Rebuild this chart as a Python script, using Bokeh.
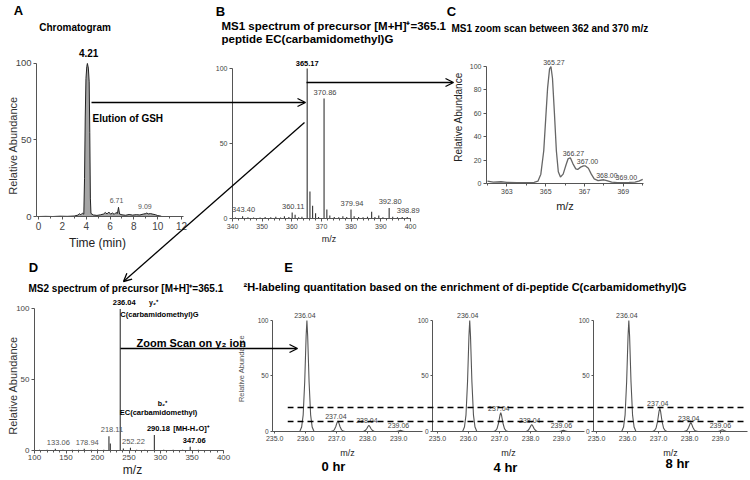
import math
from bokeh.plotting import figure
from bokeh.models import Range1d, FixedTicker, Label, Arrow, OpenHead, NumeralTickFormatter
from bokeh.embed import file_html
from bokeh.resources import INLINE
from bokeh.core.properties import value

W, H = 750, 480
FONT = "Liberation Sans"

# ---------------- data ----------------
# A: chromatogram
chrom_time = [0.0, 0.6, 1.2, 1.8, 2.4, 3.0, 3.3, 3.45, 3.55, 3.68, 3.8, 3.86, 3.92, 3.98, 4.05, 4.1,
              4.18, 4.25, 4.3, 4.35, 4.4, 4.6, 4.9, 5.2, 5.45, 5.6, 5.75, 5.9, 6.05, 6.2, 6.35, 6.5,
              6.62, 6.71, 6.8, 7.0, 7.3, 7.6, 7.9, 8.2, 8.5, 8.8, 9.0, 9.09, 9.2, 9.4, 9.6, 9.8, 10.0, 10.3]
chrom_abund = [0.0, 0.1, 0.0, 0.2, 0.1, 0.3, 0.9, 1.8, 1.1, 2.2, 1.5, 25, 65, 90, 98, 100,
               97, 88, 55, 12, 2.0, 1.0, 0.7, 1.1, 1.6, 2.6, 1.7, 2.9, 1.5, 2.3, 1.4, 2.6,
               2.0, 6.0, 1.6, 1.1, 0.8, 1.3, 0.9, 1.2, 1.0, 1.6, 1.9, 2.3, 1.7, 1.9, 1.5, 1.2, 0.6, 0.2]
chrom_apex_time = [4.21]
chrom_apex_abund = [100]
chrom_apex_text = ["4.21"]
chrom_minor_time = [6.71, 9.09]
chrom_minor_abund = [6.0, 2.3]
chrom_minor_text = ["6.71", "9.09"]

# B: MS1 spectrum
ms1_mz = [341.0, 343.4, 345.2, 347.1, 349.3, 351.0, 352.9, 354.6, 356.2, 357.5, 359.0, 360.11, 361.1,
          362.3, 363.4, 365.17, 366.1, 367.0, 368.0, 369.0, 370.86, 371.8, 372.8, 374.3, 375.8, 377.2,
          378.5, 379.94, 381.0, 382.5, 384.0, 385.5, 386.9, 388.0, 389.3, 390.7, 392.8, 394.0, 395.6,
          397.2, 398.89]
ms1_int = [0.6, 1.5, 0.8, 0.6, 0.7, 1.0, 0.8, 1.2, 0.6, 1.5, 1.0, 4.0, 2.5,
           0.8, 1.2, 100, 18, 8.5, 3.5, 1.0, 80, 6.0, 2.0, 1.0, 0.8, 1.5,
           1.0, 6.0, 1.5, 1.0, 0.8, 1.2, 4.5, 1.0, 2.0, 0.8, 7.0, 1.2, 0.8,
           1.0, 1.0]
ms1_label_mz = [343.40, 360.11, 370.86, 379.94, 392.80, 398.89]
ms1_label_int = [1.5, 4.0, 80, 6.0, 7.0, 1.0]
ms1_label_text = ["343.40", "360.11", "370.86", "379.94", "392.80", "398.89"]
ms1_base_mz = [365.17]
ms1_base_int = [100]
ms1_base_text = ["365.17"]

# C: MS1 zoom scan (profile)
zoom_mz = [362.0, 362.3, 362.7, 363.0, 363.5, 364.0, 364.4, 364.6, 364.75, 364.9, 365.0, 365.1, 365.2,
           365.27, 365.35, 365.45, 365.55, 365.65, 365.76, 365.9, 366.05, 366.15, 366.27, 366.4, 366.55,
           366.65, 366.8, 366.95, 367.05, 367.2, 367.35, 367.5, 367.7, 367.9, 368.0, 368.15, 368.4,
           368.7, 369.0, 369.3, 369.6, 369.8, 370.0]
zoom_abund = [2.0, 1.2, 1.5, 1.0, 0.8, 0.8, 1.0, 2.0, 8, 28, 55, 82, 98,
              100, 90, 60, 28, 10, 5.5, 8, 16, 21, 22, 17, 12.5,
              12.0, 14, 15, 15, 13, 8, 4, 2.5, 3, 3.2, 2.5, 1.2,
              0.8, 0.8, 0.9, 1.2, 2.0, 3.5]
zoom_label_mz = [365.27, 366.27, 367.00, 368.00, 369.00]
zoom_label_abund = [100, 22, 15, 3.2, 0.9]
zoom_label_text = ["365.27", "366.27", "367.00", "368.00", "369.00"]

# D: MS2 spectrum
ms2_mz = [108, 120, 133.06, 145, 160, 170, 178.94, 190, 200, 210, 218.11, 220.3, 236.04, 241,
          252.22, 262, 275, 290.18, 305, 320, 335, 347.06, 360, 380]
ms2_int = [0.5, 0.5, 1.2, 0.5, 0.6, 0.5, 1.2, 0.5, 0.7, 0.6, 10.0, 5.0, 100, 1.5,
           2.0, 0.5, 0.6, 11.0, 0.5, 0.5, 0.6, 2.7, 0.5, 0.4]
ms2_ion_mz = [236.04, 290.18, 347.06]
ms2_ion_int = [100, 11.0, 2.7]
ms2_ion_text = ["236.04", "290.18", "347.06"]
ms2_other_mz = [133.06, 178.94, 218.11, 252.22]
ms2_other_int = [1.2, 1.2, 10.0, 2.0]
ms2_other_text = ["133.06", "178.94", "218.11", "252.22"]

# E: isotope distribution of y2 ion over time
iso_mz = [236.04, 237.04, 238.04, 239.06]
iso_text = ["236.04", "237.04", "238.04", "239.06"]
iso_0hr = [100, 9.5, 5.5, 1.0]
iso_4hr = [100, 17.0, 6.3, 1.0]
iso_8hr = [100, 21.0, 8.0, 1.5]
time_points = ["0 hr", "4 hr", "8 hr"]
enrich_levels = [21.8, 9.3]

# peak drawing shape (style only)
PEAK_DX = [-0.23, -0.17, -0.12, -0.07, -0.025, 0.0, 0.025, 0.07, 0.12, 0.17, 0.23]
PEAK_REL = [0.0, 0.04, 0.15, 0.45, 0.86, 1.0, 0.86, 0.45, 0.15, 0.04, 0.0]

AX = "#555555"
TK = "#444444"
STACK = {"position": "absolute", "left": "0px", "top": "0px"}


def blank(p):
    p.background_fill_color = None
    p.border_fill_color = None
    p.outline_line_color = None
    p.xgrid.visible = False
    p.ygrid.visible = False
    p.styles = dict(STACK)


def panel(left, top, fw, fh, xr, yr):
    p = figure(width=W, height=H, x_range=xr, y_range=yr, output_backend="svg",
               toolbar_location=None, min_border_left=left, min_border_top=top,
               min_border_right=W - left - fw, min_border_bottom=H - top - fh)
    blank(p)
    for ax in (p.xaxis[0], p.yaxis[0]):
        ax.axis_line_color = AX
        ax.major_tick_line_color = AX
        ax.minor_tick_line_color = AX
        ax.major_tick_in = 0
        ax.major_tick_out = 3
        ax.minor_tick_in = 0
        ax.minor_tick_out = 2
        ax.major_label_standoff = 2
        ax.major_label_text_font = FONT
        ax.major_label_text_color = TK
        ax.axis_label_text_font = FONT
        ax.axis_label_text_font_style = "normal"
        ax.axis_label_text_color = "#222222"
    return p


def txt(p, x, y, t, size, bold=False, color="#333333", xo=0, yo=-3):
    p.text(x=x, y=y, text=t, text_font=value(FONT), text_font_size=size,
           text_font_style="bold" if bold else "normal", text_color=color,
           text_align="center", text_baseline="bottom", x_offset=xo, y_offset=yo)


figs = []

# ---- A ----
pa = panel(36, 40, 164, 176, Range1d(-0.17, 13.59), Range1d(0, 115))
pa.varea(x=chrom_time, y1=0, y2=chrom_abund, fill_color="#a5a5a5")
pa.line(chrom_time, chrom_abund, line_color="#222222", line_width=1)
txt(pa, chrom_apex_time, chrom_apex_abund, chrom_apex_text, "10px", bold=True, color="black", yo=-6)
txt(pa, chrom_minor_time, chrom_minor_abund, chrom_minor_text, "7px", color="#555555", xo=-2, yo=-4)
pa.xaxis.ticker = FixedTicker(ticks=[0, 2, 4, 6, 8, 10, 12], minor_ticks=[1, 3, 5, 7, 9, 11])
pa.yaxis.ticker = FixedTicker(ticks=[0, 50, 100])
pa.xaxis.bounds = (-0.17, 12.2)
pa.yaxis.bounds = (0, 100)
pa.xaxis.major_label_text_font_size = "10px"
pa.yaxis.major_label_text_font_size = "9.5px"
figs.append(pa)

# ---- B ----
pb = panel(232, 50, 193, 168, Range1d(340, 405.05), Range1d(0, 112))
pb.segment(x0=ms1_mz, y0=0, x1=ms1_mz, y1=ms1_int, line_color="#333333", line_width=1.1)
txt(pb, ms1_base_mz, ms1_base_int, ms1_base_text, "7.5px", bold=True, color="black", yo=-3)
txt(pb, ms1_label_mz, ms1_label_int, ms1_label_text, "7.5px", color="#444444", xo=1, yo=-4)
pb.xaxis.ticker = FixedTicker(ticks=list(range(340, 401, 10)), minor_ticks=list(range(340, 401, 2)))
pb.yaxis.ticker = FixedTicker(ticks=[0, 50, 100])
pb.xaxis.bounds = (340, 400)
pb.yaxis.bounds = (0, 100)
pb.xaxis.major_label_text_font_size = "7px"
pb.yaxis.major_label_text_font_size = "7px"
pb.xaxis.axis_label = "m/z"
pb.xaxis.axis_label_text_font_size = "9px"
pb.xaxis.axis_label_standoff = 2
figs.append(pb)

# ---- C ----
pc = panel(486, 50, 157, 133, Range1d(361.95, 370.04), Range1d(0, 113.7))
pc.line(zoom_mz, zoom_abund, line_color="#666666", line_width=1.3)
txt(pc, zoom_label_mz, zoom_label_abund, zoom_label_text, "7px", color="#444444", xo=3, yo=-2)
pc.xaxis.ticker = FixedTicker(ticks=[363, 365, 367, 369], minor_ticks=[362, 364, 366, 368, 370])
pc.yaxis.ticker = FixedTicker(ticks=[0, 20, 40, 60, 80, 100])
pc.yaxis.bounds = (0, 100)
pc.xaxis.major_label_text_font_size = "7px"
pc.yaxis.major_label_text_font_size = "7px"
pc.xaxis.axis_label = "m/z"
pc.xaxis.axis_label_text_font_size = "11px"
pc.xaxis.axis_label_standoff = 3
pc.yaxis.axis_label = "Relative Abundance"
pc.yaxis.axis_label_text_font_size = "10px"
pc.yaxis.axis_label_standoff = 3
figs.append(pc)

# ---- D ----
pd_ = panel(34, 295, 196, 155, Range1d(100, 411), Range1d(0, 109.5))
pd_.segment(x0=ms2_mz, y0=0, x1=ms2_mz, y1=ms2_int, line_color="#333333", line_width=1.1)
txt(pd_, ms2_ion_mz, ms2_ion_int, ms2_ion_text, "7.5px", bold=True, color="black", xo=4, yo=-4)
txt(pd_, ms2_other_mz, ms2_other_int, ms2_other_text, "7.5px", color="#555555", xo=3, yo=-4)
pd_.xaxis.ticker = FixedTicker(ticks=list(range(100, 401, 50)), minor_ticks=list(range(100, 401, 10)))
pd_.yaxis.ticker = FixedTicker(ticks=[0, 50, 100])
pd_.xaxis.bounds = (100, 400)
pd_.yaxis.bounds = (0, 100)
pd_.xaxis.major_label_text_font_size = "8px"
pd_.yaxis.major_label_text_font_size = "8px"
pd_.xaxis.major_label_standoff = 1
pd_.xaxis.axis_label = "m/z"
pd_.xaxis.axis_label_text_font_size = "12px"
pd_.xaxis.axis_label_standoff = 0
figs.append(pd_)

# ---- E ----
e_y = Range1d(0, 113.5)
e_specs = [(272, 150, Range1d(234.93, 239.77), iso_0hr),
           (432, 152, Range1d(234.84, 239.74), iso_4hr),
           (593, 154, Range1d(234.90, 239.87), iso_8hr)]
for i, (left, fw, xr, ab) in enumerate(e_specs):
    pe = panel(left, 305, fw, 126, xr, e_y)
    xs = [[m + d for d in PEAK_DX] for m in iso_mz]
    ys = [[h * r for r in PEAK_REL] for h in ab]
    pe.multi_line(xs, ys, line_color="#555555", line_width=1.1)
    txt(pe, iso_mz, ab, iso_text, "7px", color="#444444", xo=-2, yo=-2)
    pe.xaxis.ticker = FixedTicker(ticks=[235, 236, 237, 238, 239])
    pe.xaxis.formatter = NumeralTickFormatter(format="0.0")
    pe.yaxis.ticker = FixedTicker(ticks=[0, 50, 100])
    pe.xaxis.bounds = (xr.start, xr.end)
    pe.yaxis.bounds = (0, 100)
    pe.xaxis.major_label_text_font_size = "7px"
    pe.yaxis.major_label_text_font_size = "6.5px"
    pe.xaxis.major_tick_out = 2
    pe.yaxis.major_tick_out = 2
    pe.xaxis.axis_label = "m/z"
    pe.xaxis.axis_label_text_font_size = "9px"
    pe.xaxis.axis_label_standoff = 4
    if i == 0:
        pe.yaxis.axis_label = "Relative Abundance"
        pe.yaxis.axis_label_text_font_size = "7.5px"
        pe.yaxis.axis_label_text_color = "#555555"
        pe.yaxis.axis_label_standoff = 9
    figs.append(pe)

# dashed enrichment levels across E
pdash = figure(width=W, height=H, x_range=Range1d(0, 1), y_range=e_y, output_backend="svg",
               toolbar_location=None, x_axis_location=None, y_axis_location=None,
               min_border_left=287, min_border_top=305,
               min_border_right=W - 287 - 458, min_border_bottom=H - 305 - 126)
blank(pdash)
pdash.hspan(y=enrich_levels, line_color="black", line_width=1.4, line_dash="6 4")
figs.append(pdash)

# ---- overlay: titles, panel letters, connecting arrows ----
ov = figure(width=W, height=H, x_range=Range1d(0, W), y_range=Range1d(H, 0), output_backend="svg",
            toolbar_location=None, x_axis_location=None, y_axis_location=None,
            min_border_left=0, min_border_right=0, min_border_top=0, min_border_bottom=0)
blank(ov)


def ol(x, y, t, size, bold=False, align="center", color="black", angle=0.0):
    ov.add_layout(Label(x=x, y=y, text=t, text_font=FONT, text_font_size=size,
                        text_font_style="bold" if bold else "normal", text_color=color,
                        text_align=align, text_baseline="middle", angle=angle))


for letter, x, y in [("A", 18, 10), ("B", 220, 11), ("C", 451, 11), ("D", 33, 267), ("E", 288, 267)]:
    ol(x, y, letter, "13px", bold=True)

ol(74.5, 27, "Chromatogram", "10px", bold=True)
ol(221, 25.5, "MS1 spectrum of precursor [M+H]\u207a=365.1", "11.5px", bold=True, align="left")
ol(221, 38.5, "peptide EC(carbamidomethyl)G", "11.5px", bold=True, align="left")
ol(451, 27.5, "MS1 zoom scan between 362 and 370 m/z", "10px", bold=True, align="left")
ol(28, 287.5, "MS2 spectrum of precursor [M+H]\u207a=365.1", "10px", bold=True, align="left")
ol(243, 286, "\u00b2H-labeling quantitation based on the enrichment of di-peptide C(carbamidomethyl)G",
   "11px", bold=True, align="left")
ol(92, 117.5, "Elution of GSH", "10px", bold=True, align="left")
ol(136, 342, "Zoom Scan on y\u2082 ion", "11px", bold=True, align="left")

ol(12, 145, "Relative Abundance", "11px", color="#333333", angle=math.pi / 2)
ol(97, 242, "Time (min)", "12px", color="#222222")
ol(12, 385, "Relative Abundance", "11px", color="#333333", angle=math.pi / 2)

ol(153, 302, "y\u2082\u207a", "7px", bold=True)
ol(159, 314, "C(carbamidomethyl)G", "7.5px", bold=True)
ol(162, 403, "b\u2082\u207a", "7px", bold=True)
ol(158, 412, "EC(carbamidomethyl)", "7.5px", bold=True)
ol(191, 428, "[MH-H\u2082O]\u207a", "7.5px", bold=True)

for t, x, y in zip(time_points, [333, 505, 677], [466, 467, 463]):
    ol(x, y, t, "13px", bold=True)

for (x0, y0, x1, y1) in [(91, 102, 305, 102), (306, 82, 453, 82), (304, 122, 123, 281), (120, 348, 297, 348)]:
    ov.add_layout(Arrow(end=OpenHead(size=8, line_width=1.3, line_color="black"),
                        x_start=x0, y_start=y0, x_end=x1, y_end=y1,
                        line_color="black", line_width=1.3))
figs.append(ov)

# every figure is its own root, stacked on the same spot of the page
open("out.html", "w").write(file_html(figs, INLINE))
